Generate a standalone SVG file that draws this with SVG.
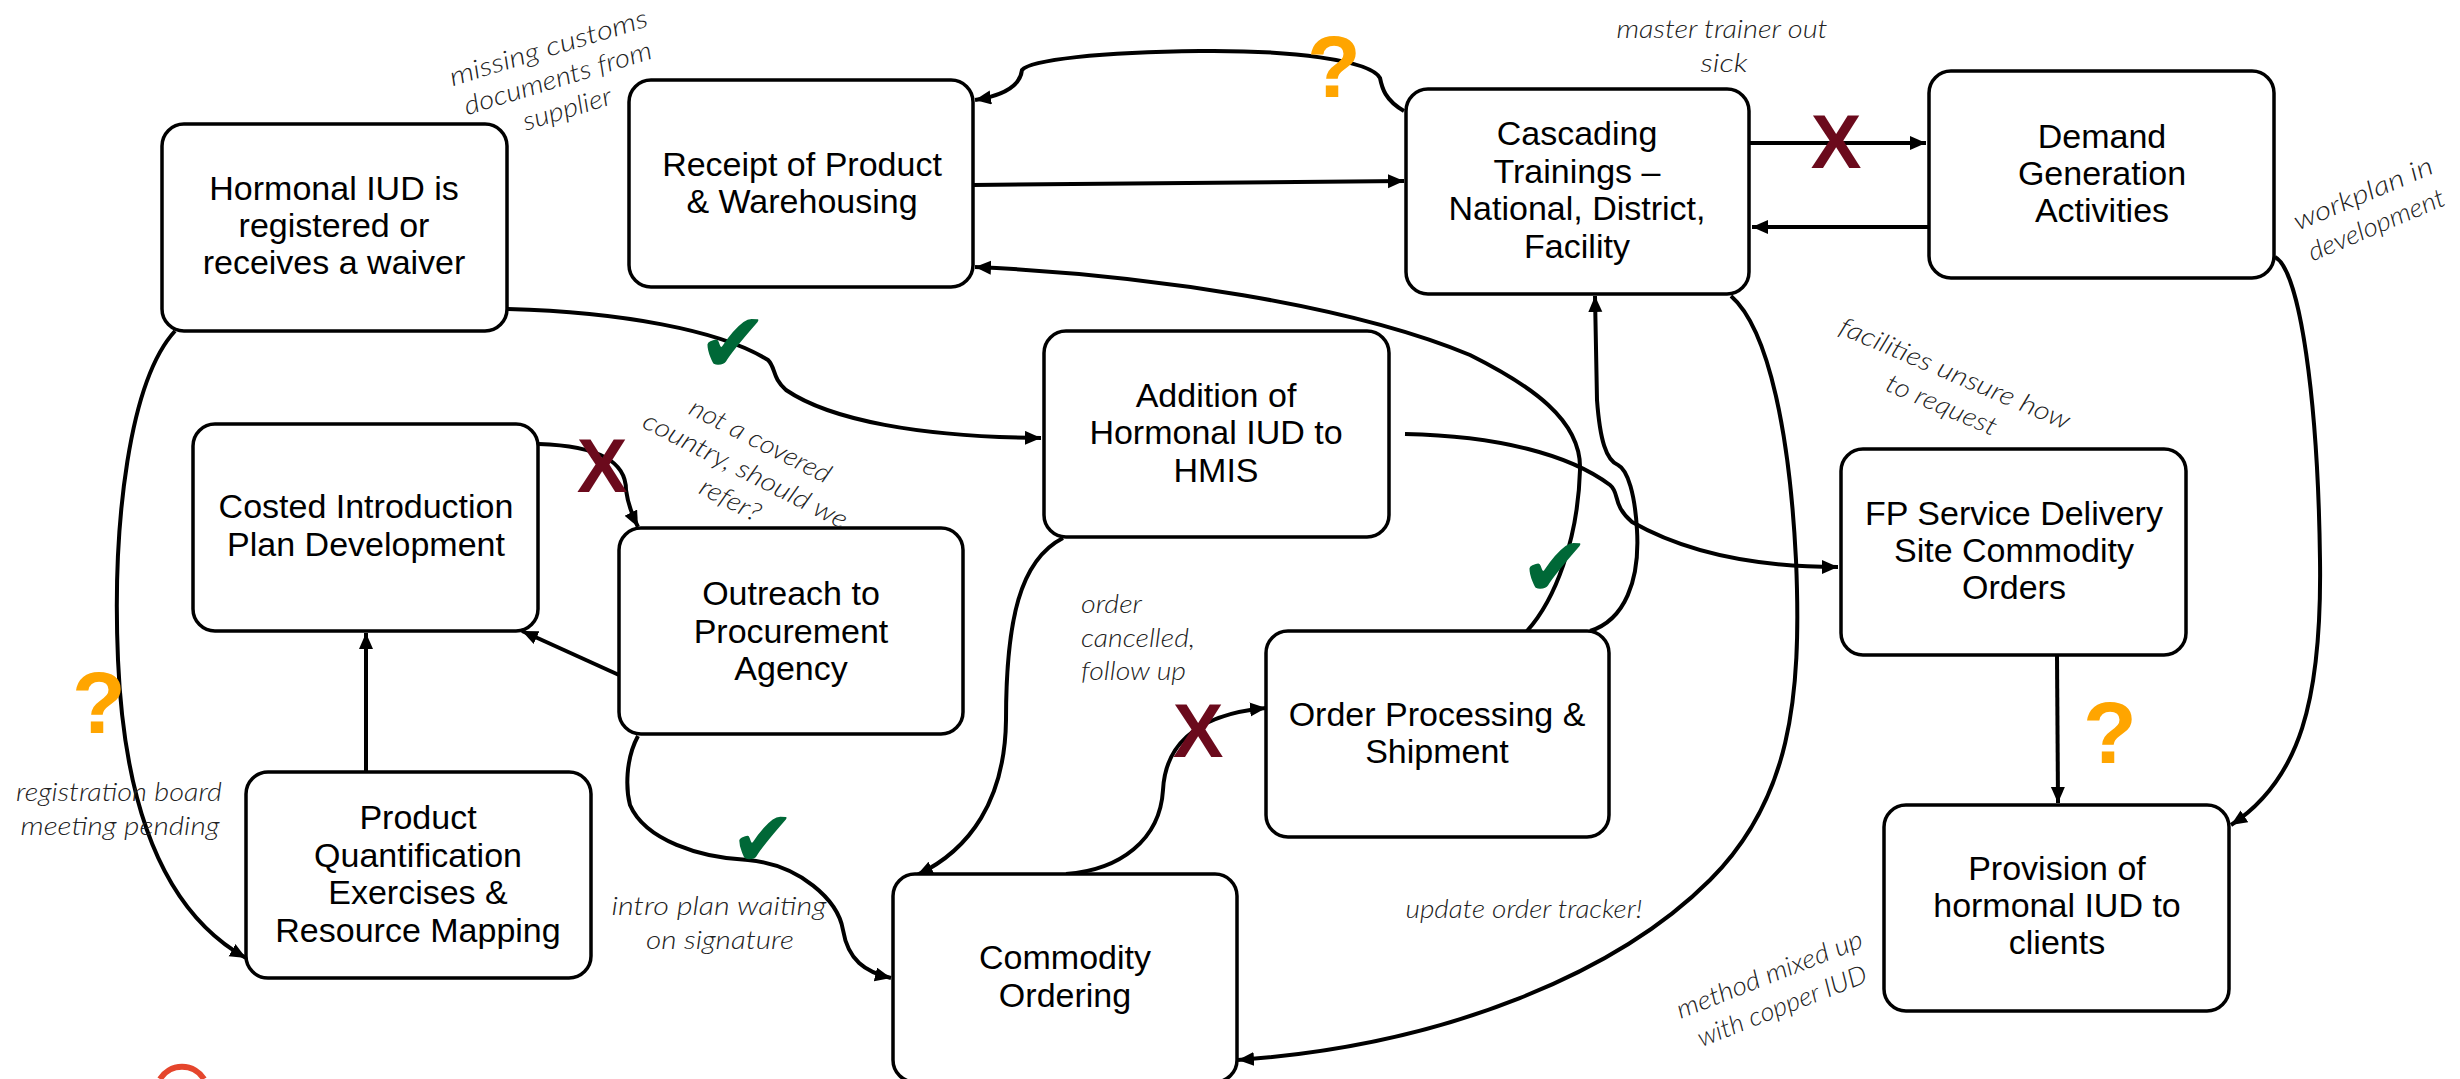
<svg xmlns="http://www.w3.org/2000/svg" width="2460" height="1079" viewBox="0 0 2460 1079">
<defs>
<marker id="arr" markerUnits="userSpaceOnUse" markerWidth="18" markerHeight="16" refX="16" refY="7" orient="auto">
<path d="M0,0 L16,7 L0,14 z" fill="#000"/>
</marker>
<style>
.box{fill:#fff;stroke:#000;stroke-width:3.5}
.lbl{font-family:"Liberation Sans",Arial,sans-serif;font-size:34px;fill:#000;text-anchor:middle}
.con{fill:none;stroke:#000;stroke-width:4}
.arw{marker-end:url(#arr)}
.note{font-family:Lato,"Open Sans",sans-serif;font-style:italic;font-weight:300;font-size:26px;fill:#222;text-anchor:middle}
.q{font-family:"Liberation Sans",Arial,sans-serif;font-weight:bold;font-size:88px;fill:#FFA500;text-anchor:middle}
.x{font-family:"Liberation Sans",Arial,sans-serif;font-weight:bold;font-size:76px;fill:#6B0A1C;text-anchor:middle}
.ok{font-family:"DejaVu Sans",sans-serif;font-size:84px;fill:#006837;text-anchor:middle}
</style>
</defs>
<rect width="2460" height="1079" fill="#fff"/>

<g id="connectors">
<path class="con arw" d="M175 331 C130 380 112 520 118 660 C124 800 160 910 246 958"/>
<path class="con arw" d="M366 772 L366 633"/>
<path class="con arw" d="M619 675 L522 631"/>
<path class="con arw" d="M539 444 C600 446 626 462 626 490 C628 505 632 515 638 527"/>
<path class="con arw" d="M507 309 C620 312 720 330 768 360 C776 368 772 378 786 390 C830 420 920 437 1041 438"/>
<path class="con arw" d="M973 185 L1404 181"/>
<path class="con arw" d="M1404 111 C1385 100 1382 88 1380 78 C1370 60 1290 50 1200 51 C1100 52 1030 60 1022 70 C1020 88 1000 96 975 100"/>
<path class="con arw" d="M1750 143 L1926 143"/>
<path class="con arw" d="M1929 227 L1752 227"/>
<path class="con arw" d="M2275 257 C2300 270 2318 400 2320 560 C2322 700 2300 780 2231 825"/>
<path class="con arw" d="M2057 656 L2058 803"/>
<path class="con arw" d="M1405 434 C1500 436 1570 455 1610 485 C1620 493 1612 505 1632 522 C1690 555 1760 567 1838 567"/>
<path class="con arw" d="M1590 631 C1625 620 1640 580 1637 530 C1635 495 1628 470 1618 465 C1606 460 1600 440 1597 400 L1595 296"/>
<path class="con arw" d="M1527 631 C1555 600 1578 540 1580 470 C1582 420 1530 385 1470 355 C1350 305 1150 275 975 267"/>
<path class="con arw" d="M1063 538 C1020 560 1006 620 1006 720 C1005 800 970 850 917 875"/>
<path class="con arw" d="M1066 874 C1120 870 1160 840 1163 790 C1165 750 1190 715 1266 708"/>
<path class="con arw" d="M638 736 C625 760 626 790 630 805 C645 840 700 858 748 860 C800 865 838 900 843 930 C848 960 865 972 891 978"/>
<path class="con arw" d="M1731 296 C1770 330 1790 440 1796 560 C1802 700 1790 800 1710 880 C1620 970 1450 1045 1238 1060"/>
</g>

<g id="n-hormonal"><rect class="box" x="162" y="124" width="345" height="207" rx="22"/>
<text class="lbl" x="334" y="200">Hormonal IUD is</text><text class="lbl" x="334" y="237">registered or</text><text class="lbl" x="334" y="274">receives a waiver</text></g>
<g id="n-receipt"><rect class="box" x="629" y="80" width="344" height="207" rx="22"/>
<text class="lbl" x="802" y="176">Receipt of Product</text><text class="lbl" x="802" y="213">&amp; Warehousing</text></g>
<g id="n-cascading"><rect class="box" x="1406" y="89" width="343" height="205" rx="22"/>
<text class="lbl" x="1577" y="145">Cascading</text><text class="lbl" x="1577" y="183">Trainings –</text><text class="lbl" x="1577" y="220">National, District,</text><text class="lbl" x="1577" y="258">Facility</text></g>
<g id="n-demand"><rect class="box" x="1929" y="71" width="345" height="207" rx="22"/>
<text class="lbl" x="2102" y="148">Demand</text><text class="lbl" x="2102" y="185">Generation</text><text class="lbl" x="2102" y="222">Activities</text></g>
<g id="n-costed"><rect class="box" x="193" y="424" width="345" height="207" rx="22"/>
<text class="lbl" x="366" y="518">Costed Introduction</text><text class="lbl" x="366" y="556">Plan Development</text></g>
<g id="n-hmis"><rect class="box" x="1044" y="331" width="345" height="206" rx="22"/>
<text class="lbl" x="1216" y="407">Addition of</text><text class="lbl" x="1216" y="444">Hormonal IUD to</text><text class="lbl" x="1216" y="482">HMIS</text></g>
<g id="n-outreach"><rect class="box" x="619" y="528" width="344" height="206" rx="22"/>
<text class="lbl" x="791" y="605">Outreach to</text><text class="lbl" x="791" y="643">Procurement</text><text class="lbl" x="791" y="680">Agency</text></g>
<g id="n-order"><rect class="box" x="1266" y="631" width="343" height="206" rx="22"/>
<text class="lbl" x="1437" y="726">Order Processing &amp;</text><text class="lbl" x="1437" y="763">Shipment</text></g>
<g id="n-fp"><rect class="box" x="1841" y="449" width="345" height="206" rx="22"/>
<text class="lbl" x="2014" y="525">FP Service Delivery</text><text class="lbl" x="2014" y="562">Site Commodity</text><text class="lbl" x="2014" y="599">Orders</text></g>
<g id="n-quant"><rect class="box" x="246" y="772" width="345" height="206" rx="22"/>
<text class="lbl" x="418" y="829">Product</text><text class="lbl" x="418" y="867">Quantification</text><text class="lbl" x="418" y="904">Exercises &amp;</text><text class="lbl" x="418" y="942">Resource Mapping</text></g>
<g id="n-commodity"><rect class="box" x="893" y="874" width="344" height="208" rx="22"/>
<text class="lbl" x="1065" y="969">Commodity</text><text class="lbl" x="1065" y="1007">Ordering</text></g>
<g id="n-provision"><rect class="box" x="1884" y="805" width="345" height="206" rx="22"/>
<text class="lbl" x="2057" y="880">Provision of</text><text class="lbl" x="2057" y="917">hormonal IUD to</text><text class="lbl" x="2057" y="954">clients</text></g>

<g id="marks">
<text class="q" x="1334" y="97">?</text>
<text class="q" x="99" y="733">?</text>
<text class="q" x="2110" y="763">?</text>
<text class="x" x="602" y="492">X</text>
<text class="x" x="1836" y="168">X</text>
<text class="x" x="1198" y="757">X</text>
<text class="ok" x="733" y="372">✔</text>
<text class="ok" x="1555" y="596">✔</text>
<text class="ok" x="763" y="866" style="font-size:78px">✔</text>
</g>

<g id="notes">
<g transform="translate(558,79) rotate(-17)">
<text class="note" y="-24" textLength="206" lengthAdjust="spacingAndGlyphs">missing customs</text>
<text class="note" y="8" textLength="195" lengthAdjust="spacingAndGlyphs">documents from</text>
<text class="note" y="40" textLength="92" lengthAdjust="spacingAndGlyphs">supplier</text></g>
<text class="note" x="1722" y="38" textLength="211" lengthAdjust="spacingAndGlyphs">master trainer out</text>
<text class="note" x="1724" y="72" textLength="47" lengthAdjust="spacingAndGlyphs">sick</text>
<g transform="translate(2370,210) rotate(-23)">
<text class="note" y="-9" textLength="149" lengthAdjust="spacingAndGlyphs">workplan in</text>
<text class="note" y="25" textLength="146" lengthAdjust="spacingAndGlyphs">development</text></g>
<g transform="translate(1948,390) rotate(23)">
<text class="note" y="-9" textLength="248" lengthAdjust="spacingAndGlyphs">facilities unsure how</text>
<text class="note" y="25" textLength="118" lengthAdjust="spacingAndGlyphs">to request</text></g>
<g transform="translate(745,471) rotate(27)">
<text class="note" y="-25" textLength="155" lengthAdjust="spacingAndGlyphs">not a covered</text>
<text class="note" y="8" textLength="226" lengthAdjust="spacingAndGlyphs">country, should we</text>
<text class="note" y="41" textLength="65" lengthAdjust="spacingAndGlyphs">refer?</text></g>
<text class="note" x="1081" y="613" style="text-anchor:start" textLength="61" lengthAdjust="spacingAndGlyphs">order</text>
<text class="note" x="1081" y="647" style="text-anchor:start" textLength="114" lengthAdjust="spacingAndGlyphs">cancelled,</text>
<text class="note" x="1081" y="680" style="text-anchor:start" textLength="105" lengthAdjust="spacingAndGlyphs">follow up</text>
<text class="note" x="719" y="915" textLength="215" lengthAdjust="spacingAndGlyphs">intro plan waiting</text>
<text class="note" x="720" y="949" textLength="148" lengthAdjust="spacingAndGlyphs">on signature</text>
<text class="note" x="119" y="801" textLength="206" lengthAdjust="spacingAndGlyphs">registration board</text>
<text class="note" x="120" y="835" textLength="199" lengthAdjust="spacingAndGlyphs">meeting pending</text>
<text class="note" x="1524" y="918" textLength="237" lengthAdjust="spacingAndGlyphs">update order tracker!</text>
<g transform="translate(1776,991) rotate(-21.5)">
<text class="note" y="-9" textLength="198" lengthAdjust="spacingAndGlyphs">method mixed up</text>
<text class="note" y="25" textLength="180" lengthAdjust="spacingAndGlyphs">with copper IUD</text></g>
</g>

<path d="M160 1079 A26 26 0 0 1 204 1079" fill="none" stroke="#E5452C" stroke-width="6"/>
</svg>
